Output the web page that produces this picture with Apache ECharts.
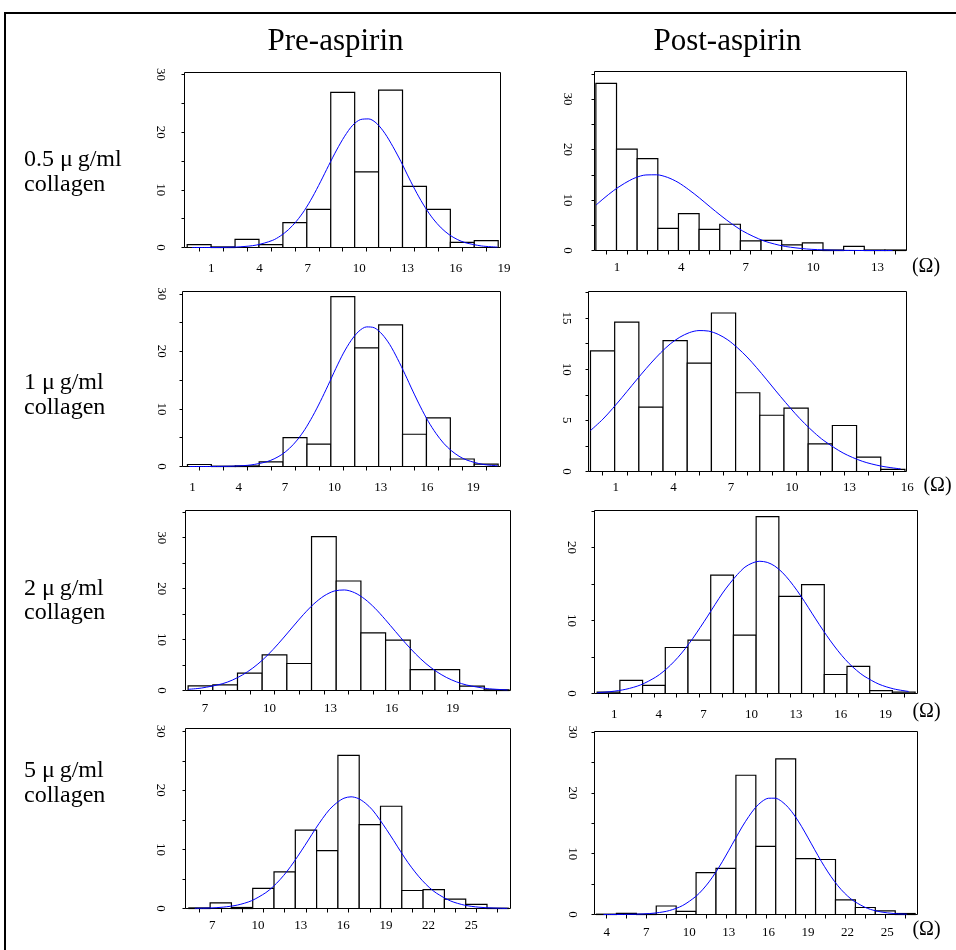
<!DOCTYPE html>
<html><head><meta charset="utf-8">
<script src="https://cdn.jsdelivr.net/npm/echarts@6/dist/echarts.min.js"></script>
<style>html,body{margin:0;padding:0;background:#fff}#c{width:956px;height:950px}</style>
</head><body><div id="c"></div>
<script>
// ---------- text ----------
const columnTitles = ['Pre-aspirin', 'Post-aspirin'];
const rowDoses = ['0.5 \u03bc\u2009g/ml', '1 \u03bc\u2009g/ml', '2 \u03bc\u2009g/ml', '5 \u03bc\u2009g/ml'];
const rowAgent = 'collagen';
const unitLabel = '(\u03a9)';

// ---------- data: [first bin edge, bin width], counts, fitted curve samples, tick labels ----------
const pre05Bin = [-0.29, 1.4875];
const pre05Counts = [0.5, 0.1, 1.4, 0.5, 4.3, 6.6, 26.9, 13.1, 27.3, 10.6, 6.6, 0.9, 1.2];
const pre05CurveX = [0, 1, 2, 3, 4, 5, 5.5, 6, 6.5, 7, 7.5, 8, 8.5, 9, 9.5, 10, 10.5, 11, 11.5, 12, 12.5, 13, 13.5, 14, 14.5, 15, 15.5, 16, 16.5, 17, 18, 19];
const pre05CurveY = [0, 0, 0.03, 0.12, 0.42, 1.22, 1.99, 3.08, 4.55, 6.43, 8.75, 11.4, 14.2, 16.9, 19.3, 21.2, 22.2, 22.3, 21.5, 19.8, 17.5, 14.9, 12.05, 9.36, 6.97, 4.97, 3.4, 2.22, 1.4, 0.84, 0.27, 0.07];
const pre05XLabels = [1, 4, 7, 10, 13, 16, 19];
const pre05YLabels = [0, 10, 20, 30];

const post05Bin = [0.166, 0.963];
const post05Counts = [33.1, 20.1, 18.2, 4.4, 7.3, 4.2, 5.2, 1.9, 2.0, 1.1, 1.5, 0.1, 0.8, 0.1, 0.1];
const post05CurveX = [0.17, 0.5, 1, 1.5, 2, 2.5, 3, 3.5, 4, 4.5, 5, 5.5, 6, 6.5, 7, 7.5, 8, 8.5, 9, 10, 11, 12, 13, 14];
const post05CurveY = [9.0, 10.2, 11.9, 13.3, 14.4, 14.97, 15.0, 14.5, 13.5, 12.05, 10.4, 8.62, 6.9, 5.3, 3.9, 2.81, 1.9, 1.28, 0.8, 0.3, 0.09, 0.02, 0, 0];
const post05XLabels = [1, 4, 7, 10, 13];
const post05YLabels = [0, 10, 20, 30];

const pre1Bin = [0.878, 1.5507];
const pre1Counts = [0.35, 0.05, 0.1, 0.8, 5.0, 3.9, 29.5, 20.6, 24.6, 5.6, 8.45, 1.3, 0.4];
const pre1CurveX = [1, 2, 3, 4, 5, 6, 6.5, 7, 7.5, 8, 8.5, 9, 9.5, 10, 10.5, 11, 11.5, 12, 12.5, 13, 13.5, 14, 14.5, 15, 15.5, 16, 16.5, 17, 17.5, 18, 18.5, 19, 20, 21];
const pre1CurveY = [0, 0, 0.02, 0.08, 0.27, 0.81, 1.33, 2.08, 3.16, 4.6, 6.46, 8.73, 11.3, 14.1, 17.0, 19.7, 21.9, 23.5, 24.25, 24.1, 23.0, 21.2, 18.75, 16.0, 13.1, 10.35, 7.85, 5.76, 4.04, 2.75, 1.78, 1.12, 0.39, 0.12];
const pre1XLabels = [1, 4, 7, 10, 13, 16, 19];
const pre1YLabels = [0, 10, 20, 30];

const post1Bin = [-0.148, 1.259];
const post1Counts = [11.8, 14.6, 6.3, 12.8, 10.6, 15.5, 7.7, 5.5, 6.2, 2.7, 4.5, 1.4, 0.2];
const post1CurveX = [-0.15, 0.5, 1, 1.5, 2, 2.5, 3, 3.5, 4, 4.5, 5, 5.5, 6, 6.5, 7, 7.5, 8, 8.5, 9, 9.5, 10, 10.5, 11, 11.5, 12, 13, 14, 15, 16];
const post1CurveY = [4.0, 5.12, 6.15, 7.25, 8.39, 9.52, 10.6, 11.6, 12.47, 13.13, 13.58, 13.78, 13.73, 13.41, 12.87, 12.1, 11.2, 10.15, 9.03, 7.88, 6.76, 5.68, 4.69, 3.8, 3.02, 1.81, 1.0, 0.52, 0.25];
const post1XLabels = [1, 4, 7, 10, 13, 16];
const post1YLabels = [0, 5, 10, 15];

const pre2Bin = [6.333, 1.2108];
const pre2Counts = [0.9, 1.1, 3.4, 7.0, 5.3, 30.2, 21.5, 11.3, 9.9, 4.1, 4.1, 0.85, 0.13];
const pre2CurveX = [6.33, 7, 8, 8.5, 9, 9.5, 10, 10.5, 11, 11.5, 12, 12.5, 13, 13.5, 14, 14.5, 15, 15.5, 16, 16.5, 17, 17.5, 18, 18.5, 19, 19.5, 20, 21, 22];
const pre2CurveY = [0.23, 0.49, 1.31, 2.04, 3.06, 4.39, 6.05, 8.05, 10.3, 12.65, 14.96, 17.0, 18.57, 19.53, 19.74, 19.2, 17.95, 16.15, 13.95, 11.6, 9.28, 7.14, 5.28, 3.76, 2.57, 1.69, 1.07, 0.38, 0.12];
const pre2XLabels = [7, 10, 13, 16, 19];
const pre2YLabels = [0, 10, 20, 30];

const post2Bin = [0.074, 1.5257];
const post2Counts = [0.2, 1.8, 1.1, 6.3, 7.3, 16.2, 8.0, 24.2, 13.3, 14.9, 2.6, 3.7, 0.4, 0.2];
const post2CurveX = [0.07, 1, 2, 3, 4, 4.5, 5, 5.5, 6, 6.5, 7, 7.5, 8, 8.5, 9, 9.5, 10, 10.5, 11, 11.5, 12, 12.5, 13, 13.5, 14, 14.5, 15, 15.5, 16, 16.5, 17, 17.5, 18, 19, 20, 21];
const post2CurveY = [0.11, 0.26, 0.58, 1.18, 2.23, 2.97, 3.88, 4.94, 6.17, 7.55, 9.05, 10.6, 12.2, 13.75, 15.1, 16.3, 17.3, 17.86, 18.1, 17.95, 17.45, 16.6, 15.45, 14.1, 12.6, 11.0, 9.43, 7.91, 6.5, 5.22, 4.1, 3.17, 2.39, 1.28, 0.63, 0.28];
const post2XLabels = [1, 4, 7, 10, 13, 16, 19];
const post2YLabels = [0, 10, 20];

const pre5Bin = [5.582, 1.499];
const pre5Counts = [0.1, 0.96, 0.17, 3.4, 6.2, 13.25, 9.8, 25.9, 14.2, 17.3, 3.05, 3.2, 1.6, 0.7, 0.05];
const pre5CurveX = [6, 7, 8, 9, 10, 11, 11.5, 12, 12.5, 13, 13.5, 14, 14.5, 15, 15.5, 16, 16.5, 17, 17.5, 18, 18.5, 19, 19.5, 20, 20.5, 21, 21.5, 22, 22.5, 23, 24, 25, 26, 27, 28];
const pre5CurveY = [0.03, 0.08, 0.23, 0.58, 1.32, 2.68, 3.66, 4.88, 6.31, 7.96, 9.75, 11.6, 13.5, 15.25, 16.8, 17.9, 18.66, 18.9, 18.62, 17.85, 16.7, 15.1, 13.35, 11.5, 9.6, 7.8, 6.19, 4.77, 3.57, 2.61, 1.28, 0.56, 0.22, 0.08, 0.02];
const pre5XLabels = [7, 10, 13, 16, 19, 22, 25];
const pre5YLabels = [0, 10, 20, 30];

const post5Bin = [3.471, 1.5087];
const post5Counts = [0.05, 0.2, 0.05, 1.4, 0.5, 6.9, 7.6, 22.9, 11.2, 25.6, 9.2, 9.05, 2.4, 1.15, 0.6, 0.16];
const post5CurveX = [4, 5, 6, 7, 8, 9, 10, 11, 11.5, 12, 12.5, 13, 13.5, 14, 14.5, 15, 15.5, 16, 16.5, 17, 17.5, 18, 18.5, 19, 19.5, 20, 20.5, 21, 21.5, 22, 22.5, 23, 24, 25, 26, 27];
const post5CurveY = [0, 0.01, 0.03, 0.09, 0.26, 0.65, 1.48, 2.98, 4.06, 5.37, 6.93, 8.67, 10.57, 12.5, 14.4, 16.1, 17.56, 18.58, 19.12, 19.13, 18.6, 17.6, 16.2, 14.5, 12.6, 10.65, 8.75, 7.0, 5.44, 4.11, 3.02, 2.16, 1.01, 0.43, 0.16, 0.05];
const post5XLabels = [4, 7, 10, 13, 16, 19, 22, 25];
const post5YLabels = [0, 10, 20, 30];

// ---------- layout (pixels) and axis extents ----------
const FONT = "'Liberation Serif', 'Times New Roman', serif";
const panels = [
  { box: [184.5, 72.5, 316, 175], xr: [-0.458, 19.19], ymax: 30.35, ystep: 5, ylm: 18, xlm: 15,
    bin: pre05Bin, counts: pre05Counts, cx: pre05CurveX, cy: pre05CurveY, xl: pre05XLabels, yl: pre05YLabels },
  { box: [594.5, 71.5, 312, 179], xr: [0.102, 14.654], ymax: 35.47, ystep: 5, ylm: 21, xlm: 11,
    bin: post05Bin, counts: post05Counts, cx: post05CurveX, cy: post05CurveY, xl: post05XLabels, yl: post05YLabels },
  { box: [182.5, 291.5, 318, 175], xr: [0.555, 21.19], ymax: 30.4, ystep: 5, ylm: 15, xlm: 15,
    bin: pre1Bin, counts: pre1Counts, cx: pre1CurveX, cy: pre1CurveY, xl: pre1XLabels, yl: pre1YLabels },
  { box: [588.5, 291.5, 318, 180], xr: [-0.251, 16.30], ymax: 17.6, ystep: 2.5, ylm: 15.5, xlm: 10,
    bin: post1Bin, counts: post1Counts, cx: post1CurveX, cy: post1CurveY, xl: post1XLabels, yl: post1YLabels },
  { box: [185.5, 510.5, 325, 180], xr: [6.204, 22.147], ymax: 35.34, ystep: 5, ylm: 17.5, xlm: 12,
    bin: pre2Bin, counts: pre2Counts, cx: pre2CurveX, cy: pre2CurveY, xl: pre2XLabels, yl: pre2YLabels },
  { box: [594.5, 510.5, 323, 183], xr: [-0.105, 21.593], ymax: 25.05, ystep: 5, ylm: 16.5, xlm: 14.5,
    bin: post2Bin, counts: post2Counts, cx: post2CurveX, cy: post2CurveY, xl: post2XLabels, yl: post2YLabels },
  { box: [185.5, 728.5, 325, 180], xr: [5.348, 28.222], ymax: 30.46, ystep: 5, ylm: 18.5, xlm: 11,
    bin: pre5Bin, counts: pre5Counts, cx: pre5CurveX, cy: pre5CurveY, xl: pre5XLabels, yl: pre5YLabels },
  { box: [594.5, 731.5, 323, 183], xr: [3.319, 27.788], ymax: 30.1, ystep: 5, ylm: 15.5, xlm: 12,
    bin: post5Bin, counts: post5Counts, cx: post5CurveX, cy: post5CurveY, xl: post5XLabels, yl: post5YLabels }
];

const grids = [], xAxes = [], yAxes = [], series = [];
panels.forEach((p, i) => {
  grids.push({ left: p.box[0], top: p.box[1], width: p.box[2], height: p.box[3],
    show: true, borderColor: '#000', borderWidth: 1, backgroundColor: 'transparent', containLabel: false });
  const centers = p.counts.map((c, k) => p.bin[0] + (k + 0.5) * p.bin[1]);
  const yTicks = [];
  for (let t = 0; t <= p.ymax + 1e-9; t += p.ystep) yTicks.push(t);
  xAxes.push({ type: 'value', gridIndex: i, min: p.xr[0], max: p.xr[1],
    axisLine: { show: false, onZero: false }, splitLine: { show: false },
    axisTick: { show: true, customValues: centers, length: 4, inside: false, lineStyle: { color: '#000', width: 1 } },
    axisLabel: { show: true, customValues: p.xl, align: 'left', margin: p.xlm, color: '#000',
      fontFamily: FONT, fontSize: 13, formatter: v => String(v) } });
  yAxes.push({ type: 'value', gridIndex: i, min: 0, max: p.ymax,
    axisLine: { show: false, onZero: false }, splitLine: { show: false },
    axisTick: { show: true, customValues: yTicks, length: 3, inside: false, lineStyle: { color: '#000', width: 1 } },
    axisLabel: { show: true, customValues: p.yl, rotate: -90, margin: p.ylm, color: '#000',
      fontFamily: FONT, fontSize: 13, formatter: v => String(v) } });
  series.push({ type: 'custom', xAxisIndex: i, yAxisIndex: i, z: 2,
    data: p.counts.map((c, k) => [p.bin[0] + k * p.bin[1], c, p.bin[1]]),
    encode: { x: 0, y: 1 },
    renderItem: (params, api) => {
      const x0 = api.value(0), h = api.value(1), w = api.value(2);
      const a = api.coord([x0, h]), b = api.coord([x0 + w, 0]);
      return { type: 'rect', shape: { x: a[0], y: a[1], width: b[0] - a[0], height: b[1] - a[1] },
        style: { fill: '#fff', stroke: '#000', lineWidth: 1.2 } };
    } });
  series.push({ type: 'line', xAxisIndex: i, yAxisIndex: i, z: 3, smooth: 0.3, showSymbol: false, symbol: 'none',
    data: p.cx.map((x, k) => [x, p.cy[k]]),
    lineStyle: { color: '#0000ff', width: 1 } });
});

const graphic = [
  { type: 'rect', shape: { x: 5, y: 13, width: 980, height: 980 }, style: { fill: 'none', stroke: '#000', lineWidth: 2 }, silent: true }
];
const titleX = [335.5, 727.5];
columnTitles.forEach((t, i) => graphic.push({ type: 'text', x: titleX[i], y: 41.5,
  style: { text: t, font: '31px ' + FONT, fill: '#000', textAlign: 'center', textVerticalAlign: 'middle' } }));
const rowY = [[160, 185], [383, 408], [589, 613], [771, 796]];
rowDoses.forEach((d, i) => {
  graphic.push({ type: 'text', x: 24, y: rowY[i][0], style: { text: d, font: '24px ' + FONT, fill: '#000', textAlign: 'left', textVerticalAlign: 'middle' } });
  graphic.push({ type: 'text', x: 24, y: rowY[i][1], style: { text: rowAgent, font: '24px ' + FONT, fill: '#000', textAlign: 'left', textVerticalAlign: 'middle' } });
});
const unitPos = [[926, 267], [937.5, 486], [926.5, 712], [926.5, 930]];
unitPos.forEach(u => graphic.push({ type: 'text', x: u[0], y: u[1],
  style: { text: unitLabel, font: '20px ' + FONT, fill: '#000', textAlign: 'center', textVerticalAlign: 'middle' } }));

const chart = echarts.init(document.getElementById('c'), null, { renderer: 'canvas' });
chart.setOption({ animation: false, backgroundColor: '#fff', grid: grids, xAxis: xAxes, yAxis: yAxes, series, graphic });
</script></body></html>
